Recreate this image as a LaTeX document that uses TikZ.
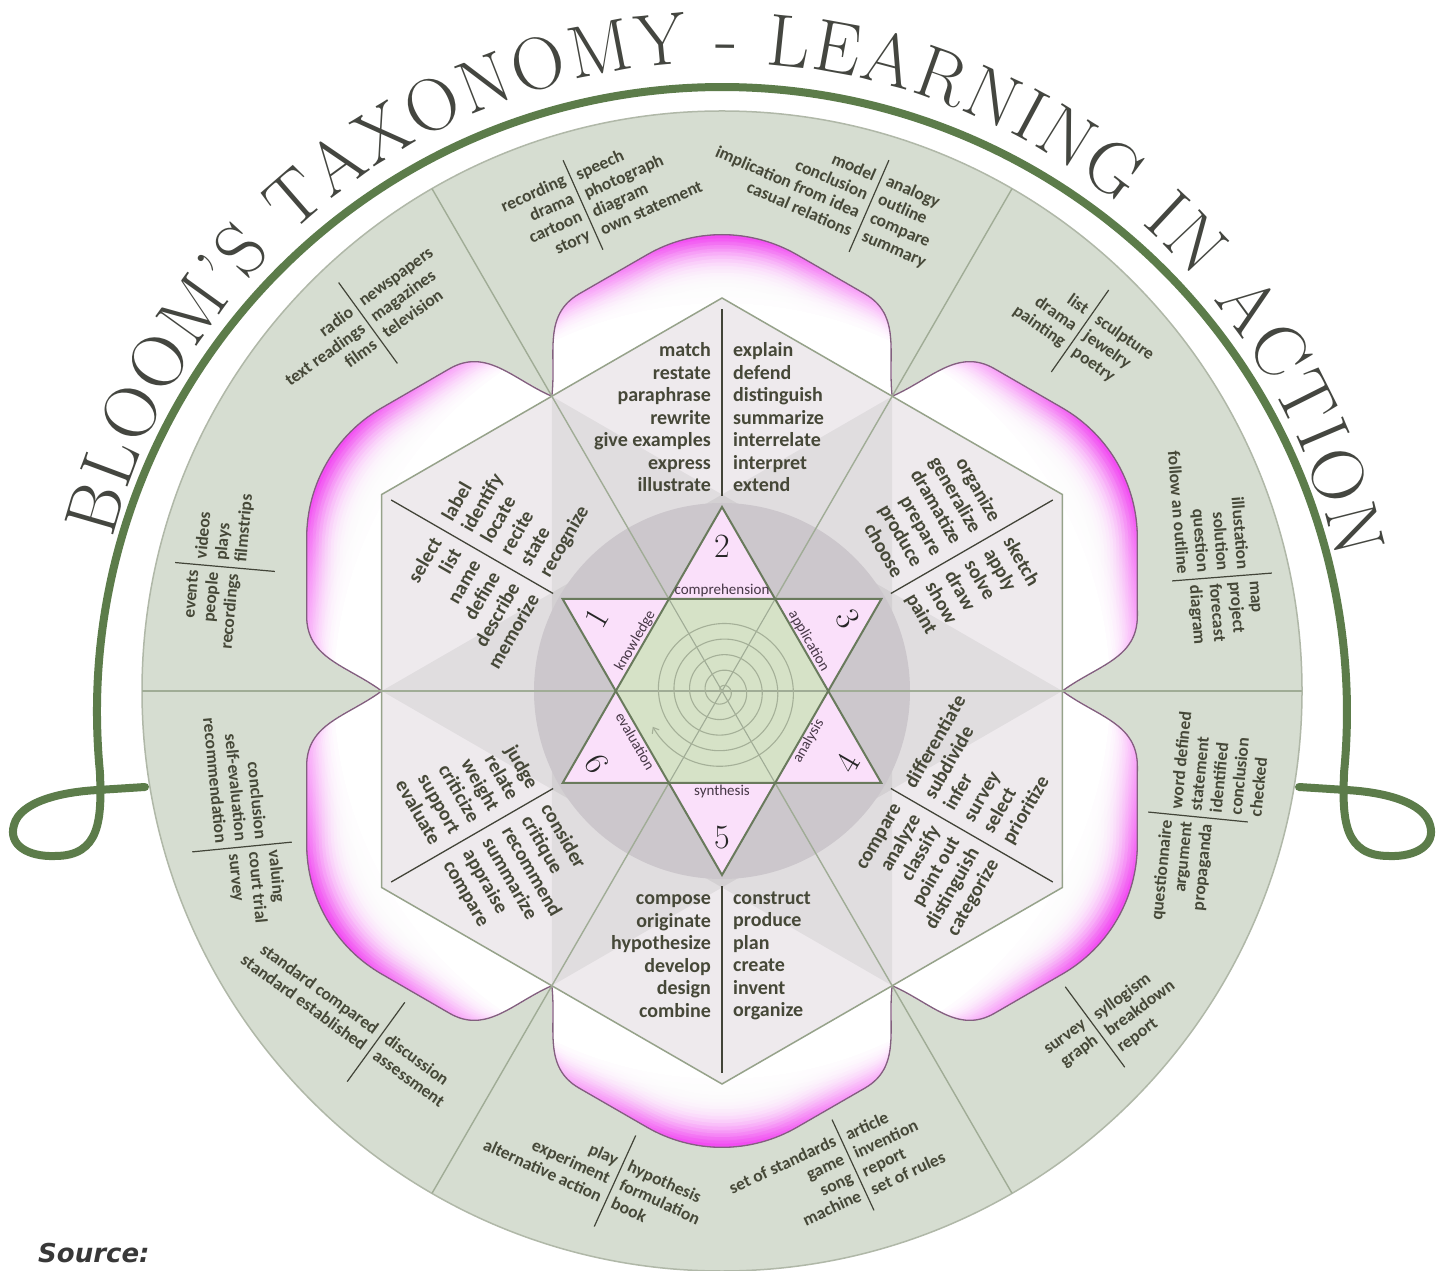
\documentclass[tikz,border=0pt]{standalone}
\usepackage{fontspec}
\setsansfont{Carlito}
\newfontfamily\srcfont{DejaVu Sans}
\usetikzlibrary{decorations.text,arrows.meta}
\definecolor{ring}{RGB}{214,221,209}
\definecolor{ringedge}{RGB}{176,184,168}
\definecolor{radline}{RGB}{160,172,150}
\definecolor{hexfill}{RGB}{238,234,237}
\definecolor{hexedge}{RGB}{150,162,138}
\definecolor{graycirc}{RGB}{204,199,204}
\definecolor{txt}{RGB}{70,72,56}
\definecolor{sepc}{RGB}{66,68,56}
\definecolor{petalpink}{RGB}{242,78,242}
\definecolor{petaledge}{RGB}{130,96,126}
\definecolor{starpink}{RGB}{250,224,250}
\definecolor{stargreen}{RGB}{214,226,199}
\definecolor{staredge}{RGB}{105,122,92}
\definecolor{lblc}{RGB}{70,55,70}
\definecolor{greenarc}{RGB}{92,124,74}
\definecolor{titlec}{RGB}{68,70,64}
\definecolor{spiralc}{RGB}{165,176,152}
\tikzset{
  kitetxt/.style={font=\sffamily\bfseries\fontsize{20}{22.5}\selectfont, text=txt, inner sep=0pt},
  otxt/.style={font=\sffamily\bfseries\fontsize{17.5}{20}\selectfont, text=txt, inner sep=0pt},
  sepline/.style={draw=sepc, line width=1.3pt},
  osep/.style={draw=sepc, line width=1.2pt},
  radln/.style={draw=radline, line width=1.4pt},
  lbl/.style={font=\sffamily\fontsize{15}{15}\selectfont, text=lblc, inner sep=0pt},
  numlbl/.style={font=\rmfamily\fontsize{34}{34}\selectfont, text=black!85, inner sep=0pt}
}
% petal outline in the frame of the top petal, offset #1, corner radius 150
\newcommand{\petalpath}[1]{(-170.15,294.75) .. controls ({-170.15+0.064*#1},{294.75+0.568*#1}) and ({-170.15-0.128*#1},{294.75+1.081*#1}) .. ({-170.15+0.366*#1},{294.75+1.366*#1}) -- (-75,{349.65+1.1547*#1}) arc[start angle=120, end angle=60, radius=150] -- ({170.15-0.366*#1},{294.75+1.366*#1}) .. controls ({170.15+0.128*#1},{294.75+1.081*#1}) and ({170.15-0.064*#1},{294.75+0.568*#1}) .. (170.15,294.75) -- cycle}
\newcommand{\kite}[7]{%
  \begin{scope}[rotate=#2]
    \draw[sepline] (0,#4) -- (0,#5);
    \node[kitetxt, align=right, anchor=east, rotate=#2] (#1L) at (-11,#3) {#6};
    \node[kitetxt, align=left, anchor=west, rotate=#2] (#1R) at (11,#3) {#7};
  \end{scope}}
\newcommand{\grp}[9]{%
  \begin{scope}[shift={(#2,{1270-#3})}, rotate=#4]
    \draw[osep] (0,-#5) -- (0,#5);
    \node[otxt, align=right, anchor=east, rotate=#4] (#1L) at (-6,#6) {#8};
    \node[otxt, align=left, anchor=west, rotate=#4] (#1R) at (6,#7) {#9};
  \end{scope}}
\begin{document}
\begin{tikzpicture}[x=1pt,y=1pt]
\useasboundingbox (0,0) rectangle (1445,1270);
\fill[white] (0,0) rectangle (1445,1270);

% green arc with loops
\draw[greenarc, line width=8pt, line cap=round]
  (145,483) -- (98,480) .. controls (60,478) and (20,468) .. (14,445)
  .. controls (8,425) and (28,413) .. (55,414)
  .. controls (100,414) and (102,450) .. (99.9,498.1)
  arc[start angle=185.5, end angle=-5.5, radius=625]
  .. controls (1342,450) and (1344,414) .. (1389,414)
  .. controls (1416,413) and (1436,425) .. (1430,445)
  .. controls (1424,468) and (1384,478) .. (1346,480) -- (1299,483);

% title
\path[decorate, decoration={text along path, text align=fit to path, text color=titlec,
  text={|\rmfamily\fontsize{74}{74}\selectfont|BLOOM’S TAXONOMY - LEARNING IN ACTION}}]
  (722,579) ++(166:628) arc[start angle=166, end angle=12, radius=628];

% outer ring
\fill[ring] (722,579) circle[radius=580];
\draw[ringedge, line width=1.5pt] (722,579) circle[radius=580];

\begin{scope}[shift={(722,579)}]
  % petals
  \foreach \th in {90,30,-30,-90,-150,150} {
    \begin{scope}[rotate=\th-90]
      \begin{scope}
        \clip \petalpath{75};
        \foreach \k in {0,...,42} {
          \pgfmathsetmacro\rr{470-2*\k}
          \pgfmathsetmacro\pp{max(0,min(100,(\rr-388)/66*100))}
          \fill[petalpink!\pp!white] (0,0) circle[radius=\rr];
        }
        \foreach \j in {1,...,16} {
          \pgfmathsetmacro\dd{75-3*\j}
          \pgfmathsetmacro\op{0.04+0.02*\j}
          \fill[white, fill opacity=\op] \petalpath{\dd};
        }
      \end{scope}
      \draw[petaledge, line width=1.3pt] \petalpath{75};
    \end{scope}
  }
  % hexagon
  \fill[hexfill] (90:393) -- (150:393) -- (210:393) -- (270:393) -- (330:393) -- (30:393) -- cycle;
  \fill[black, opacity=0.055] (120:340.3) -- (0:340.3) -- (240:340.3) -- cycle;
  \fill[black, opacity=0.055] (60:340.3) -- (180:340.3) -- (300:340.3) -- cycle;
  \draw[hexedge, line width=1.5pt, line join=miter] (90:393) -- (150:393) -- (210:393) -- (270:393) -- (330:393) -- (30:393) -- cycle;
  % grey disc
  \fill[graycirc] (0,0) circle[radius=188];
  % radial lines
  \foreach \a in {0,60,...,300} \draw[radln] (0,0) -- (\a:580);
  % kite texts
  \kite{comp}{0}{273.5}{195}{382}{match\\restate\\paraphrase\\rewrite\\give examples\\express\\illustrate}{explain\\defend\\distinguish\\summarize\\interrelate\\interpret\\extend}
  \kite{appl}{-60}{267}{195}{382}{organize\\generalize\\dramatize\\prepare\\produce\\choose}{sketch\\apply\\solve\\draw\\show\\paint}
  \kite{know}{60}{267}{195}{382}{select\\list\\name\\define\\describe\\memorize}{label\\identify\\locate\\recite\\state\\recognize}
  \kite{synt}{0}{-265}{-195}{-382}{compose\\originate\\hypothesize\\develop\\design\\combine}{construct\\produce\\plan\\create\\invent\\organize}
  \kite{anal}{60}{-267}{-195}{-382}{compare\\analyze\\classify\\point out\\distinguish\\categorize}{differentiate\\subdivide\\infer\\survey\\select\\prioritize}
  \kite{eval}{-60}{-267}{-195}{-382}{judge\\relate\\weight\\criticize\\support\\evaluate}{consider\\critique\\recommend\\summarize\\appraise\\compare}
  % star
  \fill[starpink] (90:184) -- (210:184) -- (330:184) -- cycle;
  \fill[starpink] (270:184) -- (30:184) -- (150:184) -- cycle;
  \fill[stargreen] (0:106.2) -- (60:106.2) -- (120:106.2) -- (180:106.2) -- (240:106.2) -- (300:106.2) -- cycle;
  \foreach \a in {0,60,...,300} \draw[radln, line width=1.1pt] (0,0) -- (\a:106.2);
  \draw[spiralc, line width=1.1pt, -{Straight Barb[length=5pt,width=8pt]}]
    plot[domain=0:1, samples=600] ({206.6+1800*(1-\x)}:{78*\x});
  \draw[staredge, line width=2pt, line join=miter] (90:184) -- (210:184) -- (330:184) -- cycle;
  \draw[staredge, line width=2pt, line join=miter] (270:184) -- (30:184) -- (150:184) -- cycle;
  % triangle labels
  \node[lbl] (l2) at (90:100) {comprehension};
  \node[lbl, rotate=-60] (l3) at (30:100) {application};
  \node[lbl, rotate=60] (l1) at (150:100) {knowledge};
  \node[lbl] (l5) at (270:101) {synthesis};
  \node[lbl, rotate=60] (l4) at (-30:100) {analysis};
  \node[lbl, rotate=-60] (l6) at (210:100) {evaluation};
  \node[numlbl] (n2) at (90:145) {2};
  \node[numlbl, rotate=-60] (n3) at (30:145) {3};
  \node[numlbl, rotate=60] (n1) at (150:145) {1};
  \node[numlbl] (n5) at (270:147) {5};
  \node[numlbl, rotate=60] (n4) at (-30:145) {4};
  \node[numlbl, rotate=-60] (n6) at (210:145) {6};
\end{scope}

% outer ring groups
\grp{ga}{583}{205}{24}{49}{0}{0}{recording\\drama\\cartoon\\story}{speech\\photograph\\diagram\\own statement}
\grp{gb}{869}{206}{-23.5}{50}{0}{0}{model\\conclusion\\implication from idea\\casual relations}{analogy\\outline\\compare\\summary}
\grp{gc}{1080}{331}{-35}{50}{0}{0}{list\\drama\\painting}{sculpture\\jewelry\\poetry}
\grp{gd}{1222}{577}{-85.5}{50}{-8}{0}{illustation\\solution\\question\\follow an outline}{map\\project\\forecast\\diagram}
\grp{ge}{1198}{817}{84.3}{50}{10}{-17}{questionnaire\\argument\\propaganda}{word defined\\statement\\identified\\conclusion\\checked}
\grp{gf}{1095}{1027}{36.5}{50}{-2}{-12}{survey\\graph}{syllogism\\breakdown\\report}
\grp{gg}{853}{1165}{24.8}{50}{0}{0}{set of standards\\game\\song\\machine}{article\\invention\\report\\set of rules}
\grp{gh}{615}{1181}{-24.5}{50}{0}{0}{play\\experiment\\alternative action}{hypothesis\\formulation\\book}
\grp{gi}{376}{1042}{-36}{49}{0}{0}{standard compared\\standard established}{discussion\\assessment}
\grp{gj}{242}{847}{-84.4}{50}{0}{11}{conclusion\\self-evaluation\\recommendation}{valuing\\court trial\\survey}
\grp{gk}{225}{567}{84.9}{50}{10}{4}{events\\people\\recordings}{videos\\plays\\filmstrips}
\grp{gl}{368}{323}{36}{50}{0}{0}{radio\\text readings\\films}{newspapers\\magazines\\television}

% source
\node[font=\srcfont\bfseries\itshape\fontsize{26}{26}\selectfont, text=black!78, anchor=base west, inner sep=0pt] (src) at (38,8) {Source:};
\end{tikzpicture}
\end{document}
